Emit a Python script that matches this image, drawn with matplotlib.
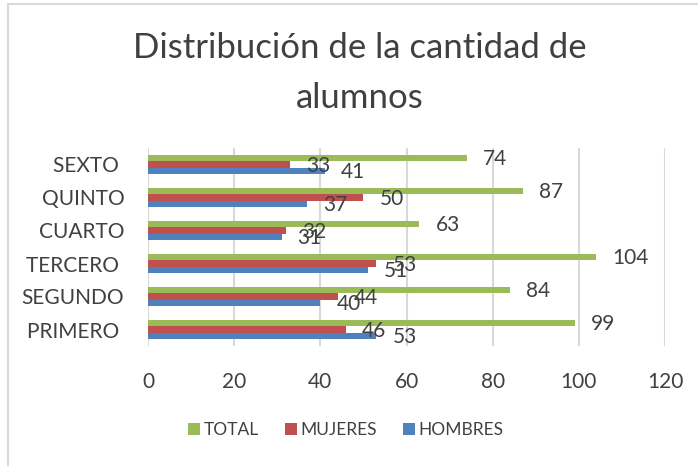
import matplotlib
matplotlib.use("Agg")
import matplotlib.pyplot as plt
from matplotlib.patches import Rectangle
from matplotlib.lines import Line2D
import numpy as np

categories = ["PRIMERO ", "SEGUNDO", "TERCERO ", "CUARTO", "QUINTO", "SEXTO "]
hombres = [53, 40, 51, 31, 37, 41]
mujeres = [46, 44, 53, 32, 50, 33]
total = [99, 84, 104, 63, 87, 74]
series_names = ["HOMBRES", "MUJERES", "TOTAL"]
colors = ["#4F81BD", "#C0504D", "#9BBB59"]
xticks = [0, 20, 40, 60, 80, 100, 120]

plt.rcParams['font.family'] = ['Lato', 'DejaVu Sans']
txt = "#404040"

W, H = 698, 466
fig = plt.figure(figsize=(W / 100, H / 100), dpi=100)
fig.patch.set_facecolor("white")

# chart border
fig.add_artist(Rectangle((8 / W, -0.1), 1.2, (H - 4) / H + 0.1, transform=fig.transFigure,
                         fill=False, edgecolor="#D9D9D9", linewidth=1.5))

ax = fig.add_axes([148 / W, (H - 346) / H, (665 - 148) / W, (346 - 148) / H])
y = np.arange(len(categories))
bh = 0.19
step = 0.197
data = [hombres, mujeres, total]
offsets = [-step, 0, step]
for vals, col, off, name in zip(data, colors, offsets, series_names):
    bars = ax.barh(y + off, vals, height=bh, color=col, label=name, zorder=3)
    for b, v in zip(bars, vals):
        ax.annotate(str(v), (v, b.get_y() + b.get_height() / 2), xytext=(11.5, -1),
                    textcoords="offset points", ha="left", va="center",
                    fontsize=15, color=txt, zorder=4)

ax.set_xlim(0, 120)
ax.set_ylim(-0.5, len(categories) - 0.5)
ax.set_xticks(xticks)
ax.set_xticklabels([str(t) for t in xticks])
ax.set_yticks(y)
ax.set_yticklabels(categories)
ax.tick_params(axis="both", length=0, labelsize=15, labelcolor=txt)
ax.tick_params(axis="x", pad=19)
ax.tick_params(axis="y", pad=17)
for s in ax.spines.values():
    s.set_visible(False)
ax.xaxis.grid(True, color="#D9D9D9", linewidth=1.5, zorder=0)
ax.set_axisbelow(True)

fig.text(360 / W, 1 - 48 / H, "Distribución de la cantidad de", ha="center", va="center",
         fontsize=25, color=txt)
fig.text(360 / W, 1 - 98 / H, "alumnos", ha="center", va="center", fontsize=25, color=txt)

handles = [Line2D([], [], linestyle="", marker="s", markersize=8.6, markeredgewidth=0,
                  color=colors[2], label="TOTAL"),
           Line2D([], [], linestyle="", marker="s", markersize=8.6, markeredgewidth=0,
                  color=colors[1], label="MUJERES"),
           Line2D([], [], linestyle="", marker="s", markersize=8.6, markeredgewidth=0,
                  color=colors[0], label="HOMBRES")]
fig.legend(handles=handles, loc="center", bbox_to_anchor=(346 / W, 1 - 430 / H), ncol=3,
           frameon=False, fontsize=12.5, labelcolor=txt, handlelength=0.7,
           handletextpad=0.2, columnspacing=1.5, borderpad=0)

fig.savefig("out.png", dpi=100)
